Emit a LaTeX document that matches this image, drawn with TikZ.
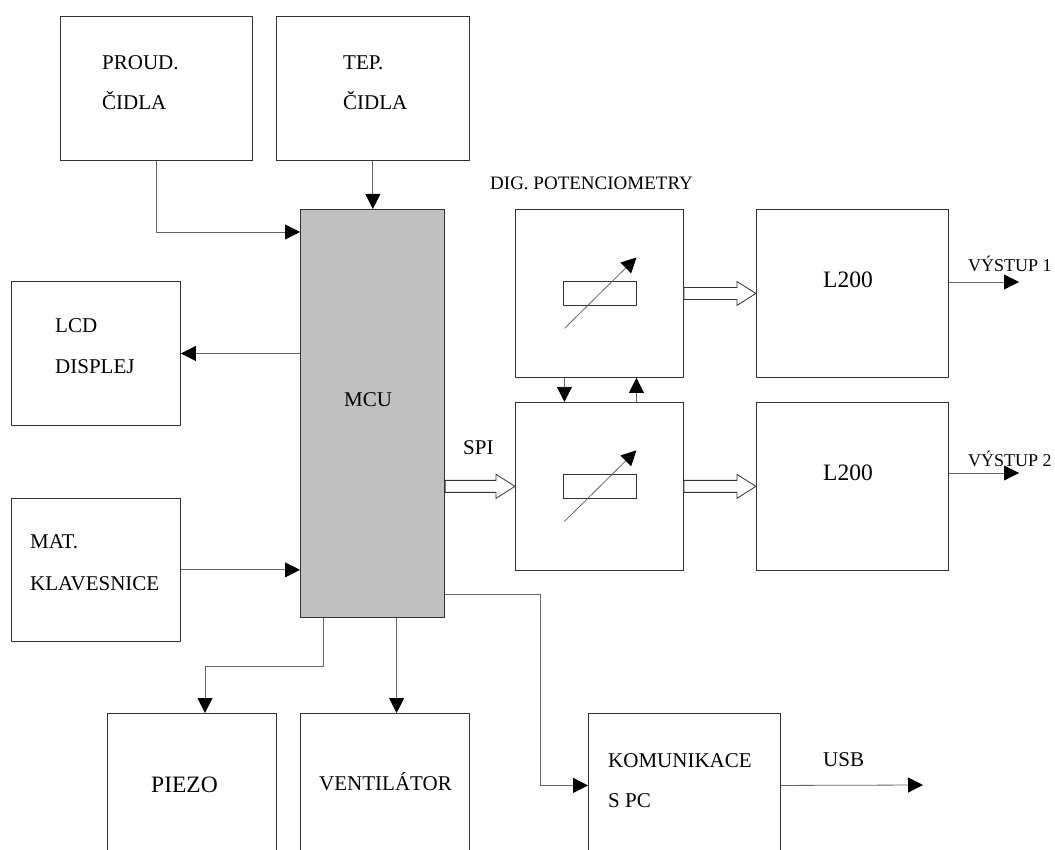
\documentclass[tikz,border=0pt]{standalone}
\usepackage{fontspec}
\setmainfont{Liberation Serif}
\usetikzlibrary{arrows.meta,positioning,calc}
\definecolor{mcugray}{HTML}{C0C0C0}
\newcommand{\fatarrow}[2]{%
  \draw[fat] (#1) ++(0,-6) -- ($(#2)+(-19,-6)$) -- ++(0,-6) -- (#2)
    -- ++(-19,12) -- ++(0,-6) -- ($(#1)+(0,6)$) -- cycle;}

\begin{document}
\begin{tikzpicture}[x=1pt, y=-1pt,
  node distance=23pt,
  box/.style={draw=black!80, line width=0.9pt, inner sep=0pt, anchor=north west},
  lbl/.style={anchor=base west, inner sep=0pt, align=left, font=\fontsize{21}{40}\selectfont},
  biglbl/.style={lbl, font=\fontsize{23.5}{28}\selectfont},
  smalllbl/.style={lbl, font=\fontsize{18}{22}\selectfont},
  arr/.style={draw=black!60, line width=0.8pt, -{Triangle[length=15pt,width=15pt,color=black]}},
  fat/.style={draw=black!80, line width=0.8pt, fill=white}
]
\clip (0,0) rectangle (1055,850);

% blocks
\node[box, minimum width=192pt, minimum height=144pt] (proud) at (60,16) {};
\node[box, minimum width=193pt, minimum height=144pt, right=23pt of proud] (tep) {};
\node[box, fill=mcugray, line width=1.2pt, minimum width=144pt, minimum height=408pt] (mcu) at (300,209) {};
\node[box, minimum width=169pt, minimum height=144pt] (lcd) at (11,281) {};
\node[box, minimum width=169pt, minimum height=143pt, below=72pt of lcd] (mat) {};
\node[box, minimum width=168pt, minimum height=168pt] (potA) at (515,209) {};
\node[box, minimum width=168pt, minimum height=168pt, below=24pt of potA] (potB) {};
\node[box, minimum width=192pt, minimum height=168pt, right=72pt of potA] (lA) {};
\node[box, minimum width=192pt, minimum height=168pt, right=72pt of potB] (lB) {};
\node[box, minimum width=169pt, minimum height=144pt] (piezo) at (107,713) {};
\node[box, minimum width=169pt, minimum height=144pt, right=23pt of piezo] (vent) {};
\node[box, minimum width=192pt, minimum height=144pt] (kom) at (588,713) {};

% texts (two-line ones sit on their last baseline)
\node[lbl] (tproud) at (102,110) {PROUD.\\ČIDLA};
\node[lbl] (ttep) at (343,110) {TEP.\\ČIDLA};
\node[lbl] (tlcd) at (55,373) {LCD\\DISPLEJ};
\node[lbl] (tmat) at (30,590) {MAT.\\[2pt]KLAVESNICE};
\node[lbl] (tmcu) at (344,406) {MCU};
\node[lbl] (tspi) at (463,454) {SPI};
\node[lbl, font=\fontsize{19}{22}\selectfont] (tdig) at (490,190) {DIG. POTENCIOMETRY};
\node[biglbl] (tla) at (823,288) {L200};
\node[biglbl] (tlb) at (823,480) {L200};
\node[smalllbl] (tout1) at (968,272) {VÝSTUP 1};
\node[smalllbl] (tout2) at (968,466) {VÝSTUP 2};
\node[lbl] (tkom) at (608,807) {KOMUNIKACE\\S PC};
\node[lbl] (tusb) at (823,766) {USB};
\node[biglbl] (tpiezo) at (151,792) {PIEZO};
\node[lbl] (tvent) at (319,790) {VENTILÁTOR};

% free ends
\coordinate (out1) at (1019,282);
\coordinate (out2) at (1019,473);
\coordinate (usb) at (923,785);
\coordinate (spiin) at (mcu.east |- potB.west);

% connections
\draw[arr] (proud.south) |- ([yshift=-23pt]mcu.north west);
\draw[arr] (tep.south) -- (tep.south |- mcu.north);
\draw[arr] (mcu.west |- lcd.east) -- (lcd.east);
\draw[arr] (mat.east) -- (mat.east -| mcu.west);
\draw[arr] ([xshift=23pt]mcu.south west) -- ++(0,48) -| ([xshift=13pt]piezo.north);
\draw[arr] ([xshift=24pt]mcu.south) -- ([xshift=24pt]mcu.south |- vent.north);
\draw[arr] ([yshift=24pt]mcu.south east) -- ++(95,0) |- (kom.west);
\draw[arr] (kom.east) -- (usb);
\draw[arr] (lA.east |- out1) -- (out1);
\draw[arr] (lB.east |- out2) -- (out2);
\draw[arr] ([xshift=-35pt]potA.south) -- ([xshift=-35pt]potB.north);
\draw[arr] ([xshift=37pt]potB.north) -- ([xshift=37pt]potA.south);

% bus arrows
\fatarrow{potA.east}{lA.west}
\fatarrow{potB.east}{lB.west}
\fatarrow{spiin}{potB.west}

% potentiometer symbols
\foreach \p in {potA,potB} {
  \draw[draw=black!80, line width=0.8pt] ($(\p)+(-36.5,-12)$) rectangle ($(\p)+(36.5,12)$);
  \draw[arr] ($(\p)+(-35,35)$) -- ($(\p)+(37,-36)$);
}
\end{tikzpicture}
\end{document}
